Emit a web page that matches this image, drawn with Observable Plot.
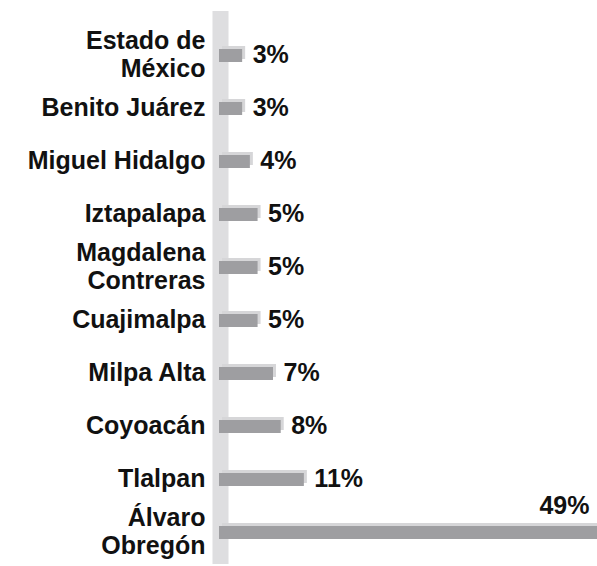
<!DOCTYPE html>
<html>
<head>
<meta charset="utf-8">
<script src="https://cdn.jsdelivr.net/npm/d3@7"></script>
<script src="https://cdn.jsdelivr.net/npm/@observablehq/plot@0.6"></script>
<style>
  body { margin: 0; background: #fff; }
  svg { display: block; }
</style>
</head>
<body>
<div id="chart"></div>
<script>
const categories = [
  "Estado de\nMéxico",
  "Benito Juárez",
  "Miguel Hidalgo",
  "Iztapalapa",
  "Magdalena\nContreras",
  "Cuajimalpa",
  "Milpa Alta",
  "Coyoacán",
  "Tlalpan",
  "Álvaro\nObregón"
];
const values = [3, 3, 4, 5, 5, 5, 7, 8, 11, 49];

const data = categories.map((c, i) => ({ name: c, value: values[i] }));
const maxV = d3.max(values);
const font = "'Liberation Sans', Arial, sans-serif";

const chart = Plot.plot({
  width: 597,
  height: 566,
  marginLeft: 219,
  marginRight: 0,
  marginTop: 25,
  marginBottom: 4,
  style: { fontFamily: font, background: "#fff" },
  x: { domain: [0, maxV], axis: null },
  y: { domain: categories, axis: null, padding: 0 },
  marks: [
    // wall
    Plot.ruleX([0], { stroke: "#dedee0", strokeWidth: 16, dx: 1, insetTop: -14, insetBottom: -2 }),
    // bar top/side face
    Plot.barX(data, { y: "name", x: "value", fill: "#d6d6d8", dx: 3, dy: -3, insetTop: 20, insetBottom: 20 }),
    // bar front face
    Plot.barX(data, { y: "name", x: "value", fill: "#9e9ea1", insetTop: 20, insetBottom: 20 }),
    // category labels
    Plot.text(data, {
      y: "name", x: 0, text: "name", textAnchor: "end", dx: -14, dy: -2,
      fontSize: 25, fontWeight: 700, lineHeight: 1.14, fill: "#111"
    }),
    // value labels
    Plot.text(data.filter(d => d.value < maxV), {
      y: "name", x: "value", text: d => d.value + "%", textAnchor: "start", dx: 10, dy: -1,
      fontSize: 25, fontWeight: 700, fill: "#111"
    }),
    Plot.text(data.filter(d => d.value === maxV), {
      y: "name", x: "value", text: d => d.value + "%", textAnchor: "end", dx: -8, dy: -27,
      fontSize: 25, fontWeight: 700, fill: "#111"
    })
  ]
});
document.getElementById("chart").appendChild(chart);
</script>
</body>
</html>
